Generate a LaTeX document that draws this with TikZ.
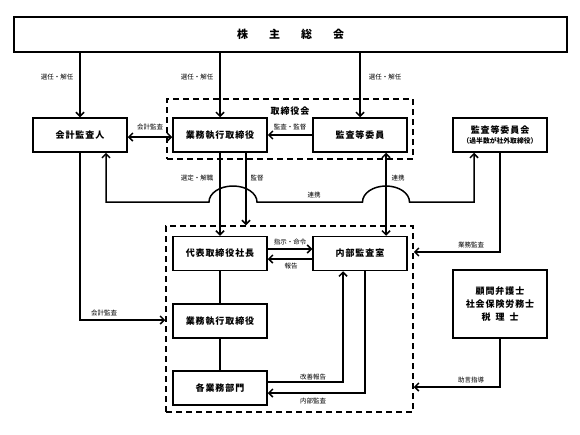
\documentclass[tikz,border=0pt]{standalone}
\usepackage{fontspec}
\setmainfont{Noto Sans CJK JP}
\newfontfamily\jp{Noto Sans CJK JP}
\newfontfamily\jpls[LetterSpace=10]{Noto Sans CJK JP}
\newcommand\myboxf{\jpls\bfseries\fontsize{9}{12}\selectfont}
\newcommand\mylblf{\jp\fontsize{6.5}{7}\selectfont}
\newcommand\mytitlef{\jp\bfseries\fontsize{11}{13}\selectfont}
\newcommand\mysubf{\jp\bfseries\fontsize{6.8}{8}\selectfont}
\usetikzlibrary{arrows.meta}
\begin{document}
\begin{tikzpicture}[x=1pt,y=-1pt,line width=1.5pt,
  box/.style={draw,line width=1.5pt,minimum width=94pt,minimum height=34pt,inner sep=0pt,align=center,font=\myboxf},
  lbl/.style={font=\mylblf,inner sep=1pt},
  arr/.style={-{Straight Barb[length=4pt,width=8pt]}},
  dbl/.style={{Straight Barb[length=4pt,width=8pt]}-{Straight Barb[length=4pt,width=8pt]}},
  dashbox/.style={draw,dash pattern=on 6pt off 4pt,line width=1.5pt,inner sep=0pt}]
\useasboundingbox (0,0) rectangle (580,434);

% main boxes
\node[box,minimum width=553pt,minimum height=35pt,font=\mytitlef] (kabu) at (290.5,34.5) {株\hspace{21pt}主\hspace{21pt}総\hspace{21pt}会};
\node[dashbox,minimum width=246pt,minimum height=60pt] (board) at (290,129) {};
\node[dashbox,minimum width=247pt,minimum height=186pt] (lower) at (289.5,319) {};
\node[font=\myboxf,inner sep=0pt] (boardlbl) at (290,111) {取締役会};

\node[box] (kaikei) at (80,135) {会計監査人};
\node[box] (gyomu1) at (220,135) {業務執行取締役};
\node[box] (kansa) at (360,135) {監査等委員};
\node[box] (iinkai) at (500,135) {監査等委員会\\[-2pt]{\mysubf （過半数が社外取締役）}};
\node[box] (shacho) at (220,253.5) {代表取締役社長};
\node[box] (naibu) at (360,253.5) {内部監査室};
\node[box] (gyomu2) at (220,321) {業務執行取締役};
\node[box] (kaku) at (220,388) {各業務部門};
\node[box,minimum height=68pt,font=\jpls\bfseries\fontsize{9}{13}\selectfont] (komon) at (500,304) {顧問弁護士\\社会保険労務士\\税\hspace{5pt}理\hspace{5pt}士};

% helper coordinates
\coordinate (h137) at (0,137);
\coordinate (h202) at (0,202);
\coordinate (h249) at (0,249);
\coordinate (h252) at (0,252);
\coordinate (h259) at (0,259);
\coordinate (h320) at (0,320);
\coordinate (h382) at (0,382);
\coordinate (h387) at (0,387);
\coordinate (h393) at (0,393);
\coordinate (x106) at (106,0);
\coordinate (x246) at (246,0);
\coordinate (x343) at (343,0);
\coordinate (x365) at (365,0);
\coordinate (x386) at (386,0);
\coordinate (x474) at (474,0);

% from shareholders meeting
\draw[arr] (kabu.south -| kaikei.north) -- (kaikei.north);
\draw[arr] (kabu.south -| gyomu1.north) -- (gyomu1.north);
\draw[arr] (kabu.south -| kansa.north) -- (kansa.north);
\node[lbl] (l1) at (57,77) {選任・解任};
\node[lbl] (l2) at (197,77) {選任・解任};
\node[lbl] (l3) at (385,77) {選任・解任};

% board level
\draw[dbl] (kaikei.east |- h137) -- (gyomu1.west |- h137);
\node[lbl] (l4) at (150,127) {会計監査};
\draw[arr] (kansa.west) -- (gyomu1.east);
\node[lbl] (l5) at (290,127) {監査・監督};

\draw[arr] (gyomu1.south) -- (shacho.north);
\node[lbl] (l6) at (197,178) {選定・解職};
\draw[arr] (gyomu1.south -| x246) -- (lower.north -| x246);
\node[lbl] (l7) at (257,178) {監督};

\draw[dbl] (kansa.south -| x386) -- (naibu.north -| x386);
\node[lbl] (l8) at (398,178) {連携};

\draw[dbl] (kaikei.south -| x106) -- (106,202) -- (209,202)
  arc[start angle=180,end angle=0,x radius=24pt,y radius=16pt]
  -- (362.5,202)
  arc[start angle=180,end angle=0,x radius=23.5pt,y radius=16pt]
  -- (474,202) -- (iinkai.south -| x474);
\node[lbl] (l9) at (314,195) {連携};

% right side
\draw[arr] (iinkai.south) |- (lower.east |- h252);
\node[lbl] (l10) at (471,245) {業務監査};
\draw[arr] (komon.south) |- (lower.east |- h387);
\node[lbl] (l11) at (471,380) {助言指導};

% left side
\draw[arr] (kaikei.south) |- (lower.west |- h320);
\node[lbl] (l12) at (104,313) {会計監査};

% inside lower box
\draw[arr] (shacho.east |- h249) -- (naibu.west |- h249);
\node[lbl] (l13) at (290,242) {指示・命令};
\draw[arr] (naibu.west |- h259) -- (shacho.east |- h259);
\node[lbl] (l14) at (291,266) {報告};
\draw (shacho) -- (gyomu2);
\draw (gyomu2) -- (kaku);
\draw[arr] (kaku.east |- h382) -| (naibu.south -| x343);
\node[lbl] (l15) at (313,377) {改善報告};
\draw[arr] (naibu.south -| x365) |- (kaku.east |- h393);
\node[lbl] (l16) at (313,401) {内部監査};
\end{tikzpicture}
\end{document}
